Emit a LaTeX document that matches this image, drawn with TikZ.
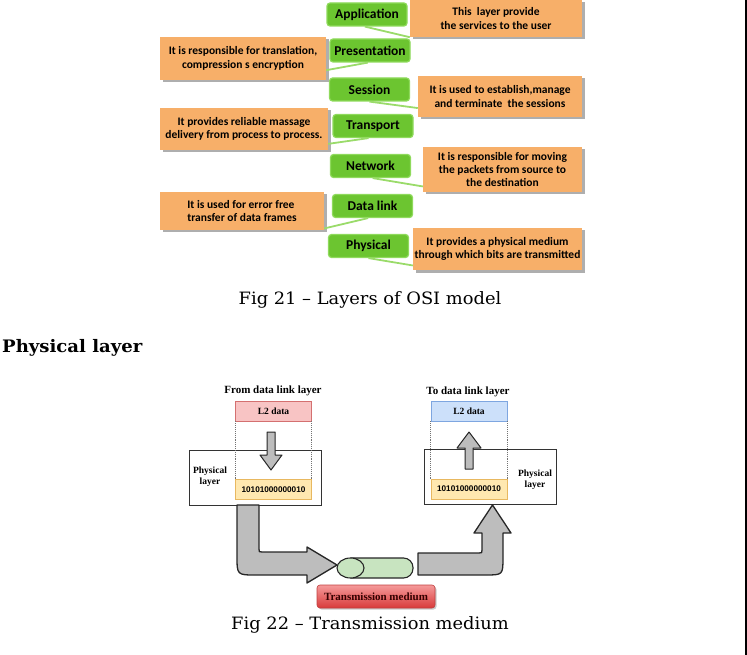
\documentclass[tikz,border=0pt]{standalone}
\usepackage{fontspec}
\setmainfont{Liberation Serif}
\newfontfamily\capfont[FakeStretch=1.05]{DejaVu Serif}
\newfontfamily\calfont{Carlito}
\newfontfamily\arialfont{Liberation Sans}
\usetikzlibrary{shadows,calc}
\definecolor{grnfill}{HTML}{6CC530}
\definecolor{grnborder}{HTML}{8FDA5C}
\definecolor{orng}{HTML}{F7AF69}
\definecolor{conn}{HTML}{9ADB6A}
\definecolor{l2red}{HTML}{F8C4C4}
\definecolor{l2redb}{HTML}{D47070}
\definecolor{l2blue}{HTML}{CCE0FA}
\definecolor{l2blueb}{HTML}{7EA6E0}
\definecolor{bitfill}{HTML}{FFE8B0}
\definecolor{bitdraw}{HTML}{E8B860}
\definecolor{cylfill}{HTML}{C8E4C0}
\definecolor{tmtop}{HTML}{F59A9A}
\definecolor{tmbot}{HTML}{D83A3A}
\definecolor{tmdraw}{HTML}{C04040}
\definecolor{arrgray}{HTML}{BDBDBD}
\tikzset{
  greenbox/.style={draw=grnborder, fill=grnfill, rounded corners=3pt, line width=1.2pt,
    minimum width=80pt, minimum height=23pt, inner sep=0pt,
    font=\calfont\bfseries\fontsize{13.5}{14}\selectfont},
  orangebox/.style={fill=orng, inner sep=0pt, align=center,
    drop shadow={shadow xshift=2.5pt, shadow yshift=-2.5pt, fill=black!45, opacity=0.7},
    font=\calfont\bfseries\fontsize{11.5}{13.3}\selectfont},
  connline/.style={draw=conn, line width=1.8pt},
  capstyle/.style={inner sep=0pt, font=\capfont\fontsize{17}{20}\selectfont},
  toplabel/.style={inner sep=0pt, font=\bfseries\fontsize{11}{12}\selectfont},
  l2box/.style={draw, line width=0.8pt, minimum width=76pt, minimum height=20pt, inner sep=0pt,
    font=\bfseries\fontsize{9.5}{10}\selectfont},
  physbox/.style={draw=black!80, fill=white, line width=0.9pt, minimum width=132pt, minimum height=55pt, inner sep=0pt},
  plabel/.style={align=center, inner sep=0pt, font=\bfseries\fontsize{9.5}{11}\selectfont},
  bitbox/.style={fill=bitfill, draw=bitdraw, line width=0.8pt, minimum width=76pt, minimum height=20pt, inner sep=0pt,
    font=\arialfont\bfseries\fontsize{8.2}{9}\selectfont},
  dotline/.style={draw=black!55, densely dotted, line width=0.9pt},
  smallarrow/.style={fill=arrgray, draw=black!85, line width=1pt, line join=round},
  bigarrow/.style={fill=arrgray, draw=black!85, line width=1.3pt, line join=round},
  cylpart/.style={fill=cylfill, draw=black!85, line width=1.1pt},
}
\begin{document}
\begin{tikzpicture}[x=1pt,y=-1pt]
\useasboundingbox (0,0) rectangle (747,655);
\draw[line width=1.6pt] (746,0) -- (746,655);

% ---------- OSI layers ----------
\node[orangebox, minimum width=172pt, minimum height=37pt] (oapp) at (496,18.5) {This\ \ layer provide\\the services to the user};
\node[orangebox, minimum width=166pt, minimum height=43pt] (opres) at (243,58.5) {It is responsible for translation,\\compression s encryption};
\node[orangebox, minimum width=164pt, minimum height=41pt] (oses) at (500,96.5) {It is used to establish,manage\\and terminate\ \ the sessions};
\node[orangebox, minimum width=168pt, minimum height=42pt] (otrans) at (244,129) {It provides reliable massage\\delivery from process to process.};
\node[orangebox, minimum width=159pt, minimum height=45pt] (onet) at (502.5,169.5) {It is responsible for moving\\the packets from source to\\the destination};
\node[orangebox, minimum width=164pt, minimum height=38pt, align=left] (odl) at (242,211) {It is used for error free\\transfer of data frames};
\node[orangebox, minimum width=169pt, minimum height=42pt] (ophy) at (497.5,249) {It provides a physical medium\\through which bits are transmitted};

\node[greenbox] (app) at (367,14.5) {Application};
\node[greenbox] (pres) at (370,50.5) {Presentation};
\node[greenbox] (ses) at (369.5,89.5) {Session};
\node[greenbox] (trans) at (373,126) {Transport};
\node[greenbox] (net) at (370.5,166) {Network};
\node[greenbox] (dl) at (372.5,206) {Data link};
\node[greenbox] (phy) at (368.5,246) {Physical};

\draw[connline] (app.-100) -- (oapp.south west);
\draw[connline] (pres.-100) -- (opres.-8);
\draw[connline] (ses.south) -- (oses.-172);
\draw[connline] (trans.-110) -- (otrans.-10);
\draw[connline] (net.-80) -- (onet.-168);
\draw[connline] (dl.-110) -- (odl.-12);
\draw[connline] (phy.south) -- (ophy.-169);

\node[capstyle] (cap1) at (370,300) {Fig 21 – Layers of OSI model};
\node[capstyle, font=\capfont\bfseries\fontsize{17.2}{20}\selectfont, anchor=west] (hdr) at (2,348) {Physical layer};

% ---------- Physical layer diagram ----------
\node[toplabel] (froml) at (273,391) {From data link layer};
\node[toplabel] (tol) at (468,392) {To data link layer};

\node[physbox] (physa) at (255,477.5) {};
\node[physbox] (physb) at (490,477) {};
\node[plabel] (pla) at (210,477) {Physical\\layer};
\node[plabel] (plb) at (535,480) {Physical\\layer};

\node[l2box, fill=l2red, draw=l2redb] (l2a) at (273.5,411) {L2 data};
\node[l2box, fill=l2blue, draw=l2blueb] (l2b) at (469,411) {L2 data};
\node[bitbox] (bita) at (273.5,489.5) {10101000000010};
\node[bitbox] (bitb) at (469,489) {10101000000010};

\draw[dotline] (l2a.south west) -- (bita.north west);
\draw[dotline] (l2a.south east) -- (bita.north east);
\draw[dotline] (l2b.south west) -- (bitb.north west);
\draw[dotline] (l2b.south east) -- (bitb.north east);

\draw[smallarrow] (267,432) -- (275,432) -- (275,455) -- (282,455) -- (271,470) -- (260,455) -- (267,455) -- cycle;
\draw[smallarrow] (465,469) -- (473,469) -- (473,448) -- (481,448) -- (469,432) -- (457,448) -- (465,448) -- cycle;

\draw[bigarrow] (237,505) -- (237,556) .. controls (237,575) .. (256,575) -- (307,575) -- (307,583)
  -- (337,565) -- (307,547) -- (307,552) -- (262,552) .. controls (259,552) .. (259,549) -- (259,505) -- cycle;
\draw[bigarrow] (418,553) -- (479,553) .. controls (482,553) .. (482,550) -- (482,533) -- (474,533)
  -- (492.5,505) -- (511,533) -- (503,533) -- (503,557) .. controls (503,575) .. (485,575) -- (418,575) -- cycle;

% transmission medium (cylinder)
\draw[cylpart, rounded corners=9.5pt] (350.5,558) -- (413,558) -- (413,578) -- (350.5,578);
\draw[cylpart] (350.5,568) ellipse [x radius=13.5, y radius=10];

\node[rounded corners=3pt, top color=tmtop, bottom color=tmbot, draw=tmdraw, line width=0.6pt,
  minimum width=118pt, minimum height=23pt, inner sep=0pt, text=black!80!red,
  drop shadow={shadow xshift=1.5pt, shadow yshift=-1.5pt, fill=black!35, opacity=0.6},
  font=\bfseries\fontsize{11}{12}\selectfont] (tm) at (376,596.5) {Transmission medium};

\node[capstyle] (cap2) at (370,625) {Fig 22 – Transmission medium};
\end{tikzpicture}
\end{document}
